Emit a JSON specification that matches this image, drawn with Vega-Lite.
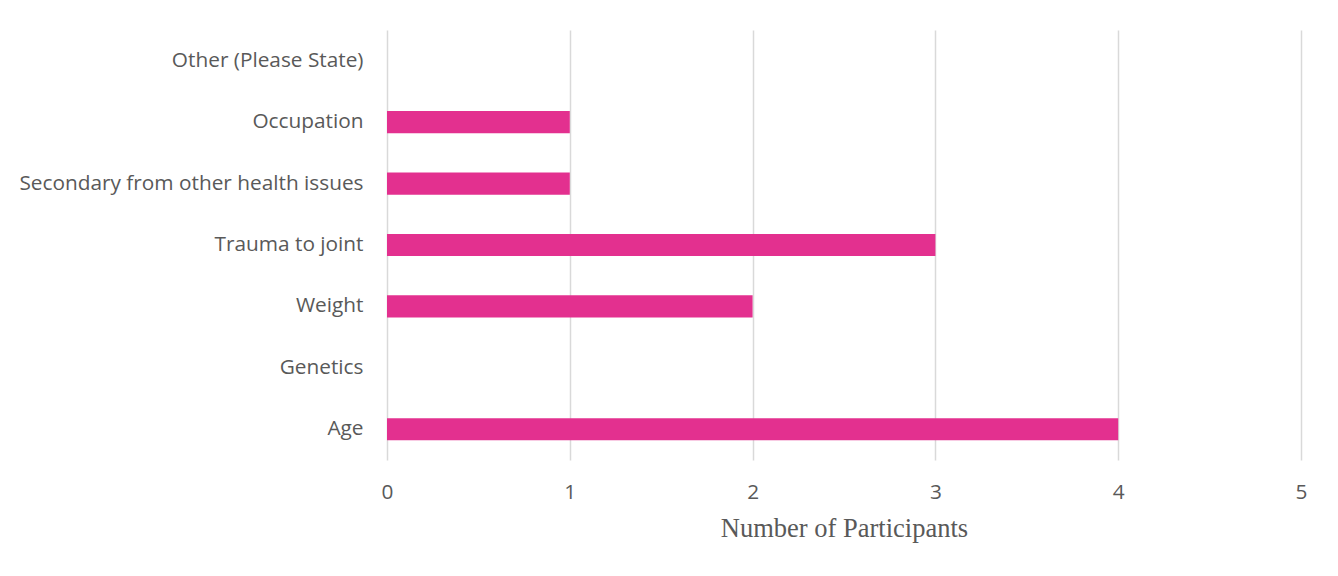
{
  "$schema": "https://vega.github.io/schema/vega-lite/v6.json",
  "autosize": {"type": "none"},
  "width": 914,
  "height": 430,
  "padding": {"left": 387, "top": 30, "right": 37, "bottom": 116},
  "background": "white",
  "data": {"values": [
    {"cause": "Other (Please State)", "count": 0},
    {"cause": "Occupation", "count": 1},
    {"cause": "Secondary from other health issues", "count": 1},
    {"cause": "Trauma to joint", "count": 3},
    {"cause": "Weight", "count": 2},
    {"cause": "Genetics", "count": 0},
    {"cause": "Age", "count": 4}
  ]},
  "mark": {"type": "bar", "color": "#E3308F"},
  "encoding": {
    "y": {
      "field": "cause", "type": "nominal", "sort": null,
      "scale": {"paddingInner": 0.64, "paddingOuter": 0.32},
      "axis": {"title": null, "domain": false, "ticks": false, "labelPadding": 24, "labelFont": "Open Sans", "labelFontSize": 20.8, "labelColor": "#595959", "labelLimit": 400}
    },
    "x": {
      "field": "count", "type": "quantitative",
      "scale": {"domain": [0, 5]},
      "axis": {"title": "Number of Participants", "titleFont": "Liberation Serif", "titleFontSize": 26.5, "titleFontWeight": "normal", "titleColor": "#595959", "titlePadding": 14, "tickCount": 5, "domain": false, "ticks": false, "labelPadding": 22, "labelFlush": false, "labelFont": "Open Sans", "labelFontSize": 20.8, "labelColor": "#595959", "grid": true, "gridColor": "#d9d9d9", "gridWidth": 1.5}
    }
  },
  "config": {"view": {"stroke": null}}
}
